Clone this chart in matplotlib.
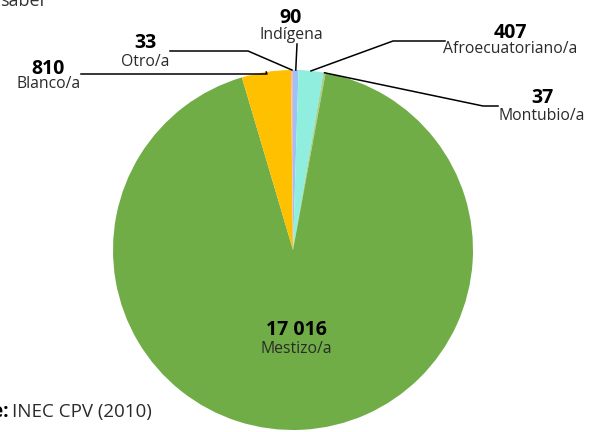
import numpy as np
import matplotlib
matplotlib.use("Agg")
import matplotlib.pyplot as plt

plt.rcParams['font.family'] = ['Open Sans', 'DejaVu Sans']

# Autoidentificación étnica (INEC CPV 2010)
categories = ["Indígena", "Afroecuatoriano/a", "Montubio/a", "Mestizo/a", "Blanco/a", "Otro/a"]
values = [90, 407, 37, 17016, 810, 33]
value_labels = ["90", "407", "37", "17 016", "810", "33"]
colors = ["#9DC3F6", "#8FEEDD", "#A9D18E", "#70AD47", "#FFC000", "#F4B4C4"]

W, H = 590, 432
fig = plt.figure(figsize=(W / 100, H / 100), dpi=100)


def fx(px):
    return px / W


def fy(py):
    return 1 - py / H


# pie: center (293, 250) px, radius 180 px
cx, cy, r = 293, 250, 180
ax = fig.add_axes([fx(cx - r), fy(cy + r), 2 * r / W, 2 * r / H])
wedges, _ = ax.pie(values, colors=colors, startangle=90, counterclock=False,
                   wedgeprops=dict(linewidth=0))
ax.set_xlim(-1, 1)
ax.set_ylim(-1, 1)
ax.set_aspect("equal")
for w in wedges:
    w.set_clip_on(False)


def wedge_point(w, frac=0.5, rad=1.0):
    a = np.deg2rad(w.theta1 + (w.theta2 - w.theta1) * frac)
    return rad * np.cos(a), rad * np.sin(a)


def to_fig(pt):
    disp = ax.transData.transform(pt)
    return fig.transFigure.inverted().transform(disp)


line_kw = dict(color="black", lw=1.1, transform=fig.transFigure, clip_on=False)

VAL_FS = 14
NAME_FS = 11.3
NAME_COLOR = "#2a2a2a"

# label layout: value baseline, name baseline, elbow points (px)
layout = {
    "Indígena": ((291, 23), (291, 39), [(297, 44)]),
    "Afroecuatoriano/a": ((510, 38), (510, 53), [(393, 41), (445, 41)]),
    "Montubio/a": ((542, 103), (542, 120), [(483, 106), (498, 106)]),
    "Otro/a": ((145, 48), (145, 66), [(248, 51), (170, 51)]),
    "Blanco/a": ((48, 74), (49, 88), [(267, 74), (81, 74)]),
}

for w, cat, val in zip(wedges, categories, value_labels):
    if cat == "Mestizo/a":
        fig.text(fx(296), fy(335), val, ha="center", va="baseline",
                 fontsize=VAL_FS, fontweight="bold", color="black")
        fig.text(fx(296), fy(353), cat, ha="center", va="baseline",
                 fontsize=NAME_FS, color=NAME_COLOR)
        continue
    vpos, npos, elbows = layout[cat]
    fig.text(fx(vpos[0]), fy(vpos[1]), val, ha="center", va="baseline",
             fontsize=VAL_FS, fontweight="bold", color="black")
    fig.text(fx(npos[0]), fy(npos[1]), cat, ha="center", va="baseline",
             fontsize=NAME_FS, color=NAME_COLOR)
    start = to_fig(wedge_point(w, 0.5, 1.0))
    xs = [start[0]] + [fx(p[0]) for p in elbows]
    ys = [start[1]] + [fy(p[1]) for p in elbows]
    fig.add_artist(plt.Line2D(xs, ys, **line_kw))

# title tail and source line (partly outside the canvas)
fig.text(fx(0), fy(6), "saber", ha="left", va="baseline", fontsize=13,
         color="#333333")
fig.text(fx(9), fy(412), "Fuente:", ha="right", va="center", fontsize=13.5,
         fontweight="bold", color="black")
fig.text(fx(12), fy(412), "INEC CPV (2010)", ha="left", va="center",
         fontsize=13.5, color=NAME_COLOR)

fig.savefig("out.png", dpi=100)
